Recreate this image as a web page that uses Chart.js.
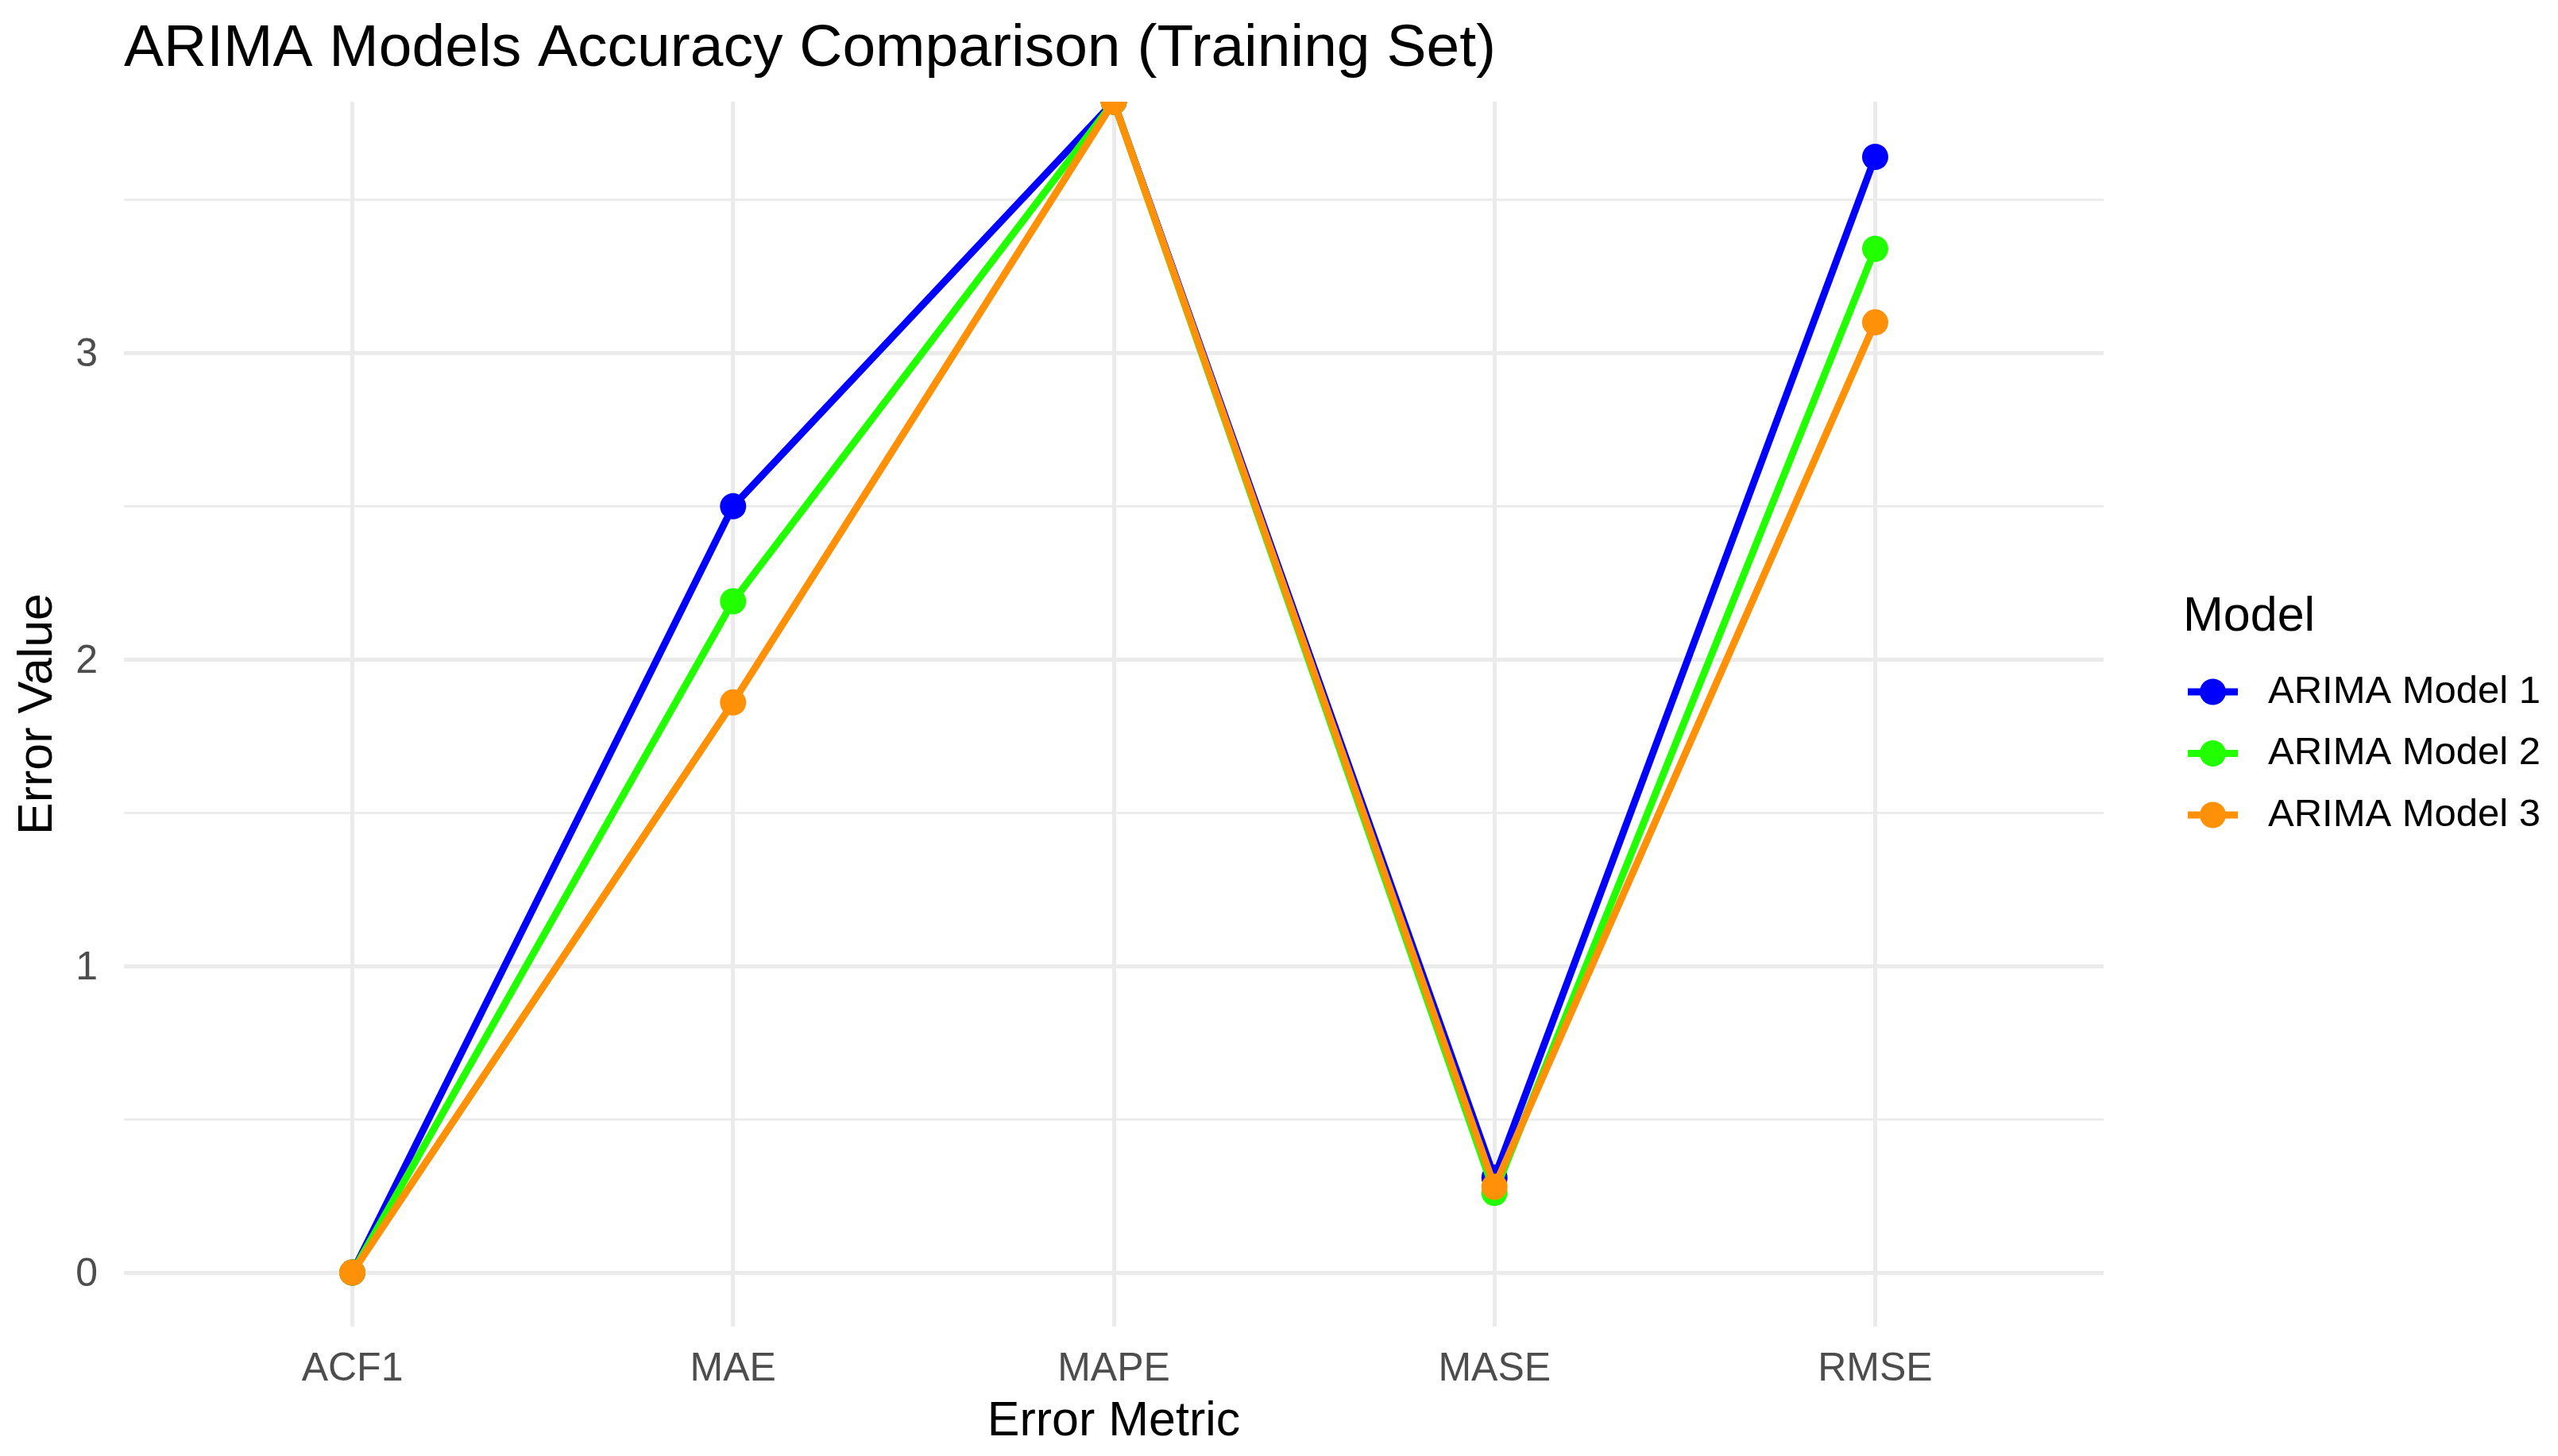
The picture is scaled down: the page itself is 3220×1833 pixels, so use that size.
<!DOCTYPE html>
<html>
<head>
<meta charset="utf-8">
<script src="https://cdn.jsdelivr.net/npm/chart.js@4.4.1/dist/chart.umd.min.js"></script>
<style>
  html, body { margin: 0; padding: 0; background: #ffffff; }
  canvas { display: block; }
</style>
</head>
<body>
<canvas id="c" width="3220" height="1833" style="width:3220px;height:1833px"></canvas>
<script>
// ---- data ----
const categories = ['ACF1', 'MAE', 'MAPE', 'MASE', 'RMSE'];
const seriesNames = ['ARIMA Model 1', 'ARIMA Model 2', 'ARIMA Model 3'];
const model1 = [0.00, 2.50, 3.82, 0.31, 3.64];
const model2 = [0.00, 2.19, 3.82, 0.26, 3.34];
const model3 = [0.00, 1.86, 3.82, 0.28, 3.10];
const yMajorTicks = [0, 1, 2, 3];
const yMinorTicks = [0.5, 1.5, 2.5, 3.5];
const yTickLabels = ['0', '1', '2', '3'];

const chartTitle = 'ARIMA Models Accuracy Comparison (Training Set)';
const xTitle = 'Error Metric';
const yTitle = 'Error Value';
const legendTitle = 'Model';

const colors = ['#0000FF', '#22FF00', '#FF9108'];
const FONT = '"Liberation Sans", Arial, Helvetica, sans-serif';

const seriesValues = [model1, model2, model3];

const datasets = seriesValues.map((vals, i) => ({
  label: seriesNames[i],
  data: vals.map((v, j) => ({ x: j, y: v })),
  borderColor: colors[i],
  backgroundColor: colors[i],
  pointBackgroundColor: colors[i],
  pointBorderColor: colors[i],
  borderWidth: 9,
  pointRadius: 16.5,
  pointBorderWidth: 0,
  pointHoverRadius: 16.5,
  tension: 0,
  fill: false,
  clip: 0,
  order: 3 - i
}));

// custom legend (ggplot-like: line + point key, title on top)
const ggLegend = {
  id: 'ggLegend',
  afterDraw(chart) {
    const ctx = chart.ctx;
    ctx.save();
    ctx.fillStyle = '#000000';
    ctx.font = '61px ' + FONT;
    ctx.textAlign = 'left';
    ctx.textBaseline = 'alphabetic';
    ctx.fillText(legendTitle, 2748, 794);
    chart.data.datasets.forEach((ds, i) => {
      const cy = 871 + i * 77.5;
      ctx.strokeStyle = ds.borderColor;
      ctx.lineWidth = 9;
      ctx.lineCap = 'butt';
      ctx.beginPath();
      ctx.moveTo(2754, cy);
      ctx.lineTo(2817, cy);
      ctx.stroke();
      ctx.fillStyle = ds.backgroundColor;
      ctx.beginPath();
      ctx.arc(2785.5, cy, 16.5, 0, Math.PI * 2);
      ctx.fill();
      ctx.fillStyle = '#000000';
      ctx.font = '49px ' + FONT;
      ctx.textBaseline = 'middle';
      ctx.fillText(ds.label, 2855, cy);
    });
    ctx.restore();
  }
};

new Chart(document.getElementById('c'), {
  type: 'line',
  data: { datasets },
  plugins: [ggLegend],
  options: {
    responsive: false,
    devicePixelRatio: 1,
    animation: false,
    events: [],
    layout: { padding: { left: 0, right: 572, top: 0, bottom: 0 } },
    plugins: {
      legend: { display: false },
      tooltip: { enabled: false },
      title: {
        display: true,
        text: chartTitle,
        align: 'start',
        fullSize: false,
        color: '#000000',
        font: { family: FONT, size: 75, weight: 'normal', lineHeight: 1.2 },
        padding: { top: 17, bottom: 21 }
      }
    },
    scales: {
      x: {
        type: 'linear',
        min: -0.6,
        max: categories.length - 1 + 0.6,
        afterBuildTicks(scale) {
          scale.ticks = categories.map((c, i) => ({ value: i }));
        },
        afterFit(scale) { scale.height = 163; },
        ticks: {
          autoSkip: false,
          maxRotation: 0,
          padding: 24,
          color: '#4D4D4D',
          font: { family: FONT, size: 50, lineHeight: 1.2 },
          callback: (v) => categories[v] !== undefined ? categories[v] : ''
        },
        grid: { color: '#EBEBEB', lineWidth: 5, drawTicks: false },
        border: { display: false },
        title: {
          display: true,
          text: xTitle,
          color: '#000000',
          font: { family: FONT, size: 61, lineHeight: 1.2 },
          padding: { top: 0, bottom: 6 }
        }
      },
      y: {
        type: 'linear',
        min: -0.176,
        max: 3.82,
        afterBuildTicks(scale) {
          scale.ticks = yMajorTicks.concat(yMinorTicks).sort((a, b) => a - b).map(v => ({ value: v }));
        },
        afterFit(scale) { scale.width = 156; },
        ticks: {
          autoSkip: false,
          padding: 33,
          labelOffset: 3,
          color: '#4D4D4D',
          font: { family: FONT, size: 50, lineHeight: 1.2 },
          callback: (v) => {
            const k = yMajorTicks.indexOf(v);
            return k >= 0 ? yTickLabels[k] : '';
          }
        },
        grid: {
          color: '#EBEBEB',
          drawTicks: false,
          lineWidth: (c) => (c.tick && yMajorTicks.indexOf(c.tick.value) >= 0) ? 5 : 2.8
        },
        border: { display: false },
        title: {
          display: true,
          text: yTitle,
          color: '#000000',
          font: { family: FONT, size: 61, lineHeight: 1.2 },
          padding: { top: 12, bottom: 0 }
        }
      }
    }
  }
});
</script>
</body>
</html>
